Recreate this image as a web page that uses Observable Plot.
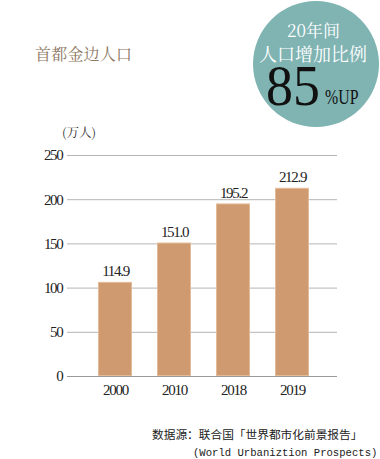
<!DOCTYPE html>
<html>
<head>
<meta charset="utf-8">
<script src="https://cdn.jsdelivr.net/npm/d3@7"></script>
<script src="https://cdn.jsdelivr.net/npm/@observablehq/plot@0.6"></script>
<style>
  html, body { margin: 0; padding: 0; background: #fff; }
  #wrap { position: relative; width: 380px; height: 459px; overflow: hidden; }
  #chart { position: absolute; left: 0; top: 0; }
  .abs { position: absolute; white-space: nowrap; }
  .cjk { font-family: "Noto Serif CJK SC", "Noto Sans CJK SC", sans-serif; }
</style>
</head>
<body>
<div id="wrap">
  <div id="chart"></div>
  <div class="abs cjk" id="title" style="left:35px; top:46px; font-size:16px; line-height:16px; color:#8c7561; letter-spacing:0.2px;"></div>
  <div class="abs" id="badge" style="left:253px; top:1px; width:126px; height:126px; border-radius:50%; background:#7fb4b3;"></div>
  <div class="abs cjk" id="badge1" style="left:287px; top:21px; font-size:17px; line-height:17px; color:#fff;"></div>
  <div class="abs cjk" id="badge2" style="left:259px; top:44px; font-size:18px; line-height:18px; color:#fff;"></div>
  <div class="abs" id="badge3" style="left:266px; top:66px; font-family:'Liberation Serif', serif; font-size:58px; line-height:40px; color:#111; transform:scaleX(0.93); transform-origin:left top;"></div>
  <div class="abs" id="badge4" style="left:325px; top:88px; font-family:'Liberation Serif', serif; font-size:22px; line-height:18px; color:#111; transform:scaleX(0.72); transform-origin:left top;"></div>
  <div class="abs cjk" id="unit" style="left:62px; top:126px; font-size:12.5px; line-height:13px; color:#333;"></div>
  <div class="abs cjk" id="src1" style="left:152px; top:428px; font-size:11.7px; line-height:12px; color:#222; font-family:'Noto Sans CJK SC', sans-serif;"></div>
  <div class="abs" id="src2" style="left:193px; top:448px; font-size:10.6px; line-height:11px; color:#222; font-family:'Liberation Mono', monospace;"></div>
</div>
<script>
// ---- data ----
const years = ["2000", "2010", "2018", "2019"];
const valueLabels = ["114.9", "151.0", "195.2", "212.9"];
const barHeights = [106.5, 151.0, 195.2, 212.9]; // bar heights as drawn in the reference
const yTicks = [0, 50, 100, 150, 200, 250];
const titleText = "首都金边人口";
const badgeLine1 = "20年间";
const badgeLine2 = "人口增加比例";
const badgeNumber = "85";
const badgeSuffix = "%UP";
const unitText = "(万人)";
const sourceLine1 = "数据源：联合国「世界都市化前景报告」";
const sourceLine2 = "(World Urbaniztion Prospects)";

const data = years.map((year, i) => ({year, value: barHeights[i], label: valueLabels[i]}));

const chart = Plot.plot({
  width: 380,
  height: 459,
  marginTop: 155,
  marginBottom: 83,
  marginLeft: 67,
  marginRight: 43,
  style: {fontFamily: "'Liberation Serif', serif", fontSize: "15px", color: "#222", background: "transparent"},
  x: {domain: years, range: [68, 339.5], paddingInner: 0.42, paddingOuter: 0.5, label: null},
  y: {domain: [0, 250], label: null},
  marks: [
    Plot.gridY(yTicks.filter(d => d > 0), {stroke: "#b5b5b5", strokeOpacity: 1, strokeWidth: 1}),
    Plot.barY(data, {x: "year", y: "value", fill: "#cf9a70", stroke: "#e4bb98", strokeWidth: 1, inset: 0.5}),
    Plot.ruleY([0], {stroke: "#9a9a9a", strokeWidth: 1}),
    Plot.text(data, {x: "year", y: "value", text: "label", dy: -11, fontSize: 15, fill: "#222"}),
    Plot.axisY({ticks: yTicks, tickSize: 0, tickPadding: 5, label: null, fontSize: 15}),
    Plot.axisX({tickSize: 0, tickPadding: 8, label: null, fontSize: 15})
  ]
});
chart.querySelectorAll("text").forEach(t => t.style.letterSpacing = "-1.3px");
document.getElementById("chart").append(chart);

document.getElementById("title").textContent = titleText;
document.getElementById("badge1").textContent = badgeLine1;
document.getElementById("badge2").textContent = badgeLine2;
document.getElementById("badge3").textContent = badgeNumber;
document.getElementById("badge4").textContent = badgeSuffix;
document.getElementById("unit").textContent = unitText;
document.getElementById("src1").textContent = sourceLine1;
document.getElementById("src2").textContent = sourceLine2;
</script>
</body>
</html>
